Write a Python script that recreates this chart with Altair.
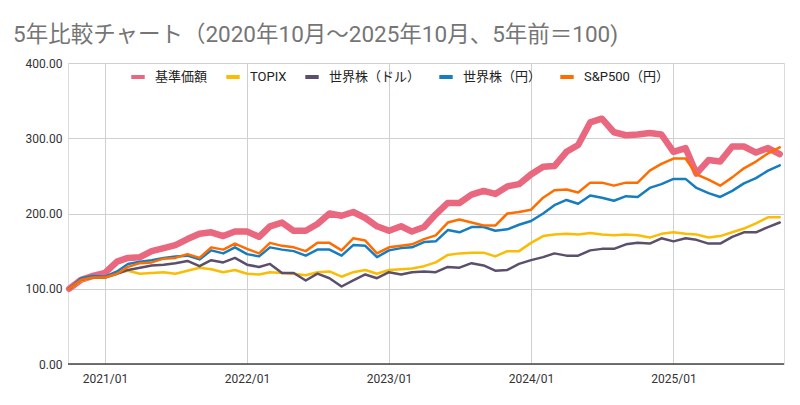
import altair as alt
import pandas as pd

months = [f"{y}-{m:02d}-01" for y in range(2020, 2026) for m in range(1, 13)]
months = [d for d in months if "2020-10-01" <= d <= "2025-10-01"]

series_names = ["基準価額", "TOPIX", "世界株（ドル）", "世界株（円）", "S&P500（円）"]

kijun = [100, 112, 117, 121, 136, 141, 142, 150, 154, 158, 166, 173, 175, 170, 176, 176,
         169, 183, 188, 177, 177, 186, 200, 197, 202, 194, 183, 177, 183, 176, 182, 199,
         214, 214, 225, 230, 226, 236, 239, 252, 262, 263, 282, 291, 321, 326, 308, 304,
         305, 307, 305, 282, 287, 253, 271, 269, 289, 289, 281, 287, 279]
topix = [100, 111, 115, 115, 121, 124, 120, 121, 122, 120, 124, 128, 126, 122, 125, 120,
         119, 122, 121, 120, 118, 122, 123, 116, 122, 125, 120, 125, 126, 127, 130, 135,
         145, 147, 148, 148, 143, 150, 150, 161, 170, 172, 173, 172, 174, 172, 171, 172,
         171, 168, 173, 175, 173, 172, 168, 170, 175, 180, 187, 195, 195]
world_usd = [100, 112, 115, 115, 120, 125, 128, 131, 132, 134, 137, 130, 138, 135, 141, 132,
             129, 133, 121, 121, 111, 120, 114, 103, 111, 119, 114, 122, 119, 122, 123, 122,
             129, 128, 134, 131, 124, 125, 133, 138, 142, 147, 144, 144, 151, 153, 153, 159,
             161, 160, 167, 163, 167, 165, 160, 160, 169, 175, 175, 182, 188]
world_jpy = [100, 114, 117, 116, 123, 133, 136, 138, 141, 143, 144, 139, 151, 147, 155, 146,
             143, 155, 152, 150, 144, 152, 152, 144, 158, 157, 142, 151, 154, 155, 162, 163,
             178, 175, 182, 182, 177, 179, 185, 190, 200, 211, 218, 213, 224, 221, 217, 223,
             222, 234, 239, 246, 246, 234, 227, 222, 230, 240, 247, 257, 264]
sp500_jpy = [100, 112, 115, 115, 120, 129, 134, 135, 140, 141, 146, 141, 155, 152, 160, 153,
             147, 161, 157, 155, 150, 161, 161, 151, 167, 164, 147, 155, 157, 159, 166, 171,
             188, 192, 188, 184, 184, 200, 202, 205, 221, 231, 232, 228, 241, 241, 237, 241,
             241, 257, 266, 273, 273, 252, 245, 237, 248, 260, 269, 280, 288]

colors = ["#E9677F", "#FBBC04", "#5B4F6B", "#167DBF", "#FF6D01"]
year_ticks = ["2021-01-01", "2022-01-01", "2023-01-01", "2024-01-01", "2025-01-01"]
y_ticks = [0, 100, 200, 300, 400]

rows = []
for name, vals in zip(series_names, [kijun, topix, world_usd, world_jpy, sp500_jpy]):
    for d, v in zip(months, vals):
        rows.append({"date": d, "value": v, "series": name})
df = pd.DataFrame(rows)

FONT = "Roboto, 'Noto Sans CJK JP', sans-serif"

x = alt.X("date:T",
          scale=alt.Scale(domain=["2020-09-28", "2025-10-12"]),
          axis=alt.Axis(values=year_ticks,
                        format="%Y/%m", title=None, domain=False, ticks=False,
                        labelFontSize=12, labelColor="#333", labelFont=FONT,
                        labelPadding=9, gridColor="#D0D0D0", labelAlign="center"))
y = alt.Y("value:Q", scale=alt.Scale(domain=[0, 400], nice=False),
          axis=alt.Axis(values=y_ticks, format=".2f", title=None, domain=False, ticks=False,
                        labelFontSize=12, labelColor="#333", labelFont=FONT,
                        labelPadding=6, gridColor="#D0D0D0"))

lines = alt.Chart(df).mark_line(strokeJoin="round", strokeCap="round").encode(
    x=x, y=y,
    color=alt.Color("series:N", scale=alt.Scale(domain=series_names, range=colors),
                    legend=alt.Legend(title=None, orient="none", direction="horizontal",
                                      legendX=61, legendY=5, symbolType="stroke",
                                      symbolSize=180, symbolStrokeWidth=4,
                                      labelFontSize=13, labelFont=FONT,
                                      labelColor="#222", columnPadding=10, labelOffset=8)),
    strokeWidth=alt.condition(alt.datum.series == "基準価額", alt.value(6.5), alt.value(2.5)),
    order=alt.Order("series:N"),
)

base = alt.Chart(pd.DataFrame({"v": [0]})).mark_rule(color="#444", strokeWidth=1.5).encode(
    y=alt.Y("v:Q", scale=alt.Scale(domain=[0, 400], nice=False)))

chart = alt.layer(lines, base).properties(
    width=716, height=301,
    padding={"left": 60, "top": 55, "right": 8, "bottom": 33},
    autosize="none",
    title=alt.TitleParams("5年比較チャート（2020年10月～2025年10月、5年前＝100)",
                          anchor="start", frame="group", dx=-55, offset=11, fontSize=22.5,
                          font=FONT, fontWeight="normal", color="#757575"),
).configure_view(stroke=None).configure(background="white")

chart.save("out.html", embed_options={"renderer": "svg", "actions": False})
